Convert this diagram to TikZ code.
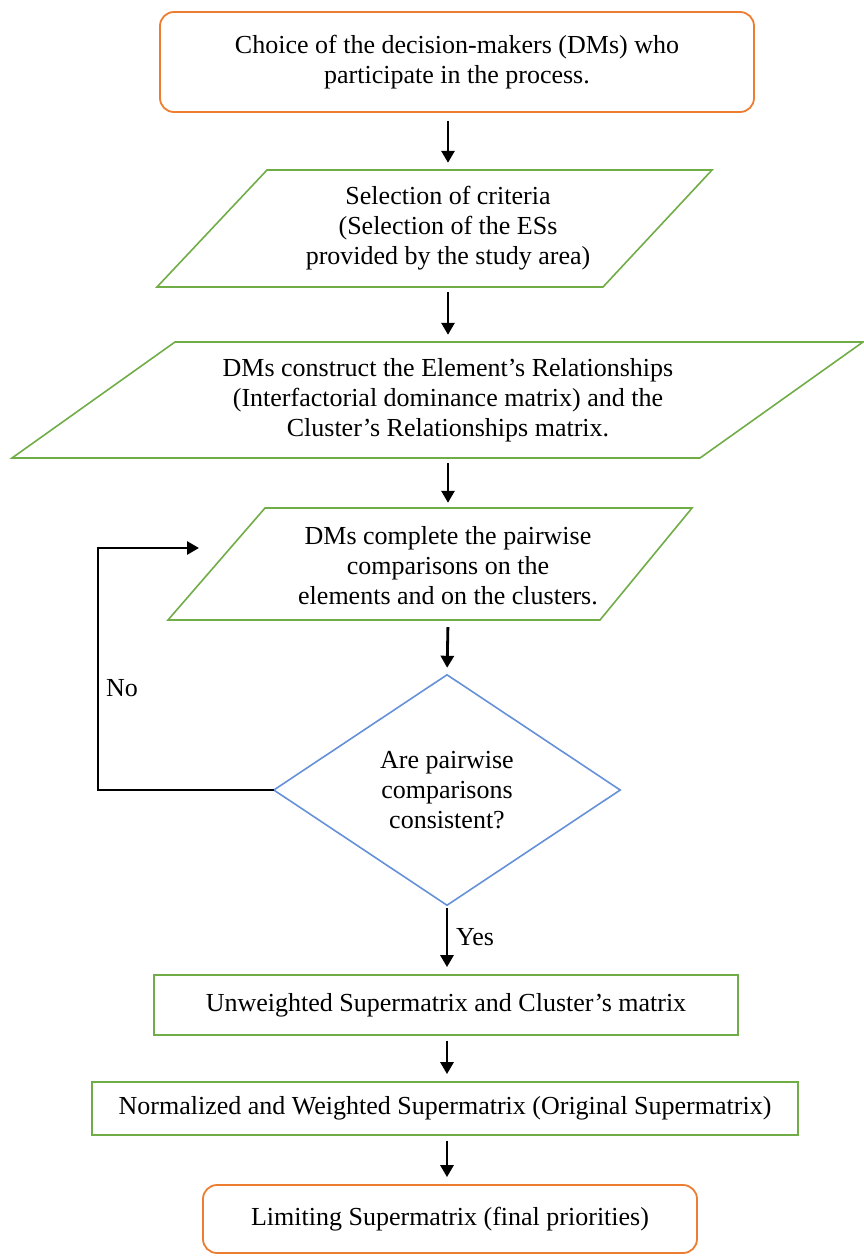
\documentclass[tikz,border=0pt]{standalone}
\usepackage{fontspec}
\setmainfont{Liberation Serif}
\usetikzlibrary{arrows.meta,calc}
\definecolor{orng}{RGB}{237,125,49}
\definecolor{grn}{RGB}{112,173,71}
\definecolor{blu}{RGB}{100,145,215}
\begin{document}
\begin{tikzpicture}[x=1pt,y=-1pt,
  txt/.style={font=\fontsize{26}{30}\selectfont, align=center, inner sep=0pt},
  termbox/.style={txt, draw=orng, line width=1.8pt, rounded corners=14pt},
  procbox/.style={txt, draw=grn, line width=1.8pt},
  shapeline/.style={line width=1.6pt},
  flow/.style={line width=2.8pt, -{Triangle[length=12pt,width=13pt]}, shorten <=5pt, shorten >=7pt},
  backflow/.style={line width=2.8pt, -{Triangle[length=12pt,width=13pt]}},
]
\useasboundingbox (0,0) rectangle (864,1256);

\node[termbox, minimum width=594pt, minimum height=100pt] (n1) at (457,62)
  {Choice of the decision-makers (DMs) who\\participate in the process.};

\node[txt, minimum height=117pt] (p1) at (448,228.5)
  {Selection of criteria\\(Selection of the ESs\\provided by the study area)};
\draw[grn, shapeline] (267,170) -- (712,170) -- (603,287) -- (157,287) -- cycle;

\node[txt, minimum height=116pt] (p2) at (448,400)
  {DMs construct the Element’s Relationships\\(Interfactorial dominance matrix) and the\\Cluster’s Relationships matrix.};
\draw[grn, shapeline] (175,342) -- (863,342) -- (700,458) -- (12,458) -- cycle;

\node[txt, minimum height=112pt] (p3) at (448,566)
  {DMs complete the pairwise\\comparisons on the\\elements and on the clusters.};
\draw[grn, shapeline] (265,508) -- (692,508) -- (600,620) -- (168,620) -- cycle;

\node[txt, minimum width=346pt, minimum height=230pt] (d) at (447,790)
  {Are pairwise\\comparisons\\consistent?};
\draw[blu, shapeline] (d.north) -- (d.east) -- (d.south) -- (d.west) -- cycle;

\node[procbox, minimum width=584pt, minimum height=60pt] (u) at (446,1005)
  {Unweighted Supermatrix and Cluster’s matrix};
\node[procbox, minimum width=706pt, minimum height=53pt] (nm) at (445,1108.5)
  {Normalized and Weighted Supermatrix (Original Supermatrix)};
\node[termbox, minimum width=494pt, minimum height=68pt] (lim) at (450,1219)
  {Limiting Supermatrix (final priorities)};

\node[txt] (no) at (122,688) {No};
\node[txt] (yes) at (475,937) {Yes};

\draw[flow, shorten <=8pt] (n1.south -| p1.north) -- (p1.north);
\draw[flow] (p1.south) -- (p2.north);
\draw[flow] (p2.south) -- (p3.north);
\draw[flow] (p3.south) -- (d.north);
\draw[flow, shorten <=3pt] (d.south) -- (d.south |- u.north);
\draw[flow] (d.south |- u.south) -- (d.south |- nm.north);
\draw[flow] (d.south |- nm.south) -- (d.south |- lim.north);

\coordinate (loopx) at (98,0);
\coordinate (loopend) at (199,548);
\draw[backflow] (d.west) -- (d.west -| loopx) |- (loopend);
\end{tikzpicture}
\end{document}
